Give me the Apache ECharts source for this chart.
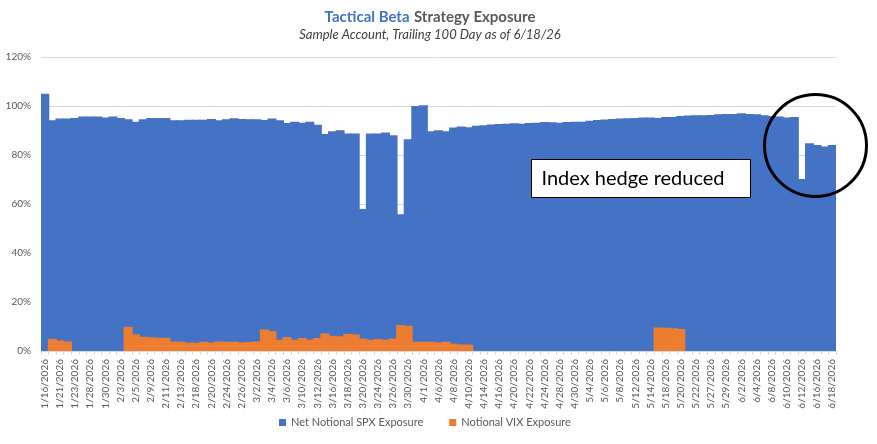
<!DOCTYPE html>
<html>
<head>
<meta charset="utf-8">
<style>
  html, body { margin: 0; padding: 0; background: #fff; }
  #Echarts1 { width: 877px; height: 444px; }
</style>
<script src="https://cdn.jsdelivr.net/npm/echarts@6.0.0/dist/echarts.min.js"></script>
</head>
<body>
<div id="Echarts1"></div>
<script>
'use strict';

// trading days, 1/26 is not in the source data
var dates = [
    '1/16/2026','1/20/2026','1/21/2026','1/22/2026','1/23/2026','1/27/2026','1/28/2026','1/29/2026','1/30/2026',
    '2/2/2026','2/3/2026','2/4/2026','2/5/2026','2/6/2026','2/9/2026','2/10/2026','2/11/2026','2/12/2026','2/13/2026',
    '2/17/2026','2/18/2026','2/19/2026','2/20/2026','2/23/2026','2/24/2026','2/25/2026','2/26/2026','2/27/2026',
    '3/2/2026','3/3/2026','3/4/2026','3/5/2026','3/6/2026','3/9/2026','3/10/2026','3/11/2026','3/12/2026','3/13/2026',
    '3/16/2026','3/17/2026','3/18/2026','3/19/2026','3/20/2026','3/23/2026','3/24/2026','3/25/2026','3/26/2026','3/27/2026',
    '3/30/2026','3/31/2026','4/1/2026','4/2/2026','4/6/2026','4/7/2026','4/8/2026','4/9/2026','4/10/2026',
    '4/13/2026','4/14/2026','4/15/2026','4/16/2026','4/17/2026','4/20/2026','4/21/2026','4/22/2026','4/23/2026','4/24/2026',
    '4/27/2026','4/28/2026','4/29/2026','4/30/2026','5/1/2026','5/4/2026','5/5/2026','5/6/2026','5/7/2026','5/8/2026',
    '5/11/2026','5/12/2026','5/13/2026','5/14/2026','5/15/2026','5/18/2026','5/19/2026','5/20/2026','5/21/2026','5/22/2026',
    '5/26/2026','5/27/2026','5/28/2026','5/29/2026','6/1/2026','6/2/2026','6/3/2026','6/4/2026','6/5/2026',
    '6/8/2026','6/9/2026','6/10/2026','6/11/2026','6/12/2026','6/15/2026','6/16/2026','6/17/2026','6/18/2026'
];

// Net Notional SPX Exposure (%)
var spxExposure = [
    105.0, 94.2, 94.9, 94.9, 95.1, 95.7, 95.7, 95.7, 95.3, 95.7, 95.1, 94.6, 93.6, 94.6, 95.1, 95.1, 95.1, 94.2, 94.2, 94.4, 94.4, 94.4, 94.7, 94.2,
    94.6, 95.0, 94.7, 94.6, 94.6, 94.3, 94.9, 94.2, 93.1, 93.6, 93.2, 93.6, 92.3, 88.6, 89.7, 90.1,
    88.8, 88.8, 58.0, 88.8, 88.8, 89.2, 88.1, 55.8, 86.4, 100.0, 100.3, 89.7, 90.1, 89.7, 91.2, 91.6, 91.3,
    91.9, 92.1, 92.4, 92.7, 92.8, 93.0, 92.8, 93.1, 93.2, 93.5, 93.4, 93.2, 93.5, 93.6, 93.6, 94.0,
    94.3, 94.5, 94.7, 94.9, 95.0, 95.1, 95.3, 95.3, 95.1, 95.5, 95.5, 95.9, 96.1, 96.2, 96.2, 96.3,
    96.6, 96.7, 96.7, 97.0, 96.7, 96.6, 96.2, 95.9, 95.7, 95.3, 95.5, 70.2, 84.8, 84.1, 83.5, 84.1
];

// Notional VIX Exposure (%)
var vixExposure = [
    0, 5.0, 4.3, 3.9, 0, 0, 0, 0, 0, 0, 0, 9.9, 6.8, 5.8, 5.6, 5.4, 5.4, 3.9, 3.8, 3.4, 3.4, 3.8, 3.5, 3.9,
    3.8, 3.8, 3.5, 3.7, 3.9, 8.8, 8.1, 4.6, 5.7, 4.6, 5.3, 4.6, 5.3, 7.2, 6.2, 6.0,
    7.0, 6.8, 5.1, 4.6, 4.9, 4.6, 5.1, 10.6, 10.3, 3.8, 3.8, 3.8, 3.5, 3.8, 3.0, 2.7, 2.6,
    0, 0, 0, 0, 0, 0, 0, 0, 0, 0, 0, 0, 0, 0, 0, 0,
    0, 0, 0, 0, 0, 0, 0, 0, 9.6, 9.5, 9.3, 9.0, 0, 0, 0, 0,
    0, 0, 0, 0, 0, 0, 0, 0, 0, 0, 0, 0, 0, 0, 0, 0
];

var yTicks = { min: 0, max: 120, step: 20 };

// zero days draw nothing
function skipZero(arr) {
    return arr.map(function (v) { return v === 0 ? '-' : v; });
}

var myChart1 = echarts.init(document.getElementById('Echarts1'));
var fontName = 'Lato, "Open Sans", sans-serif';

var option = {
    animation: false,
    color: ['#4472c4', '#ed7d31'],
    textStyle: { fontFamily: fontName },
    title: {
        text: '{b|Tactical Beta} {n|Strategy Exposure}',
        subtext: 'Sample Account, Trailing 100 Day as of 6/18/26',
        left: 425,
        textAlign: 'center',
        top: 3,
        itemGap: 2,
        textStyle: {
            rich: {
                b: { fontFamily: fontName, fontSize: 15, fontWeight: 'bold', color: '#4472c4' },
                n: { fontFamily: fontName, fontSize: 15, color: '#595959' }
            }
        },
        subtextStyle: {
            fontFamily: fontName,
            fontSize: 13,
            fontStyle: 'italic',
            color: '#404040'
        }
    },
    legend: {
        bottom: 11,
        left: 274,
        icon: 'rect',
        itemWidth: 7,
        itemHeight: 7,
        itemGap: 26,
        selectedMode: false,
        textStyle: { fontFamily: fontName, fontSize: 11, color: '#595959' },
        data: ['Net Notional SPX Exposure', 'Notional VIX Exposure']
    },
    grid: {
        left: 41,
        right: 41,
        top: 57,
        bottom: 93
    },
    xAxis: {
        type: 'category',
        data: dates,
        axisLine: { lineStyle: { color: '#d9d9d9' } },
        axisTick: { show: true, interval: 0, length: 4, lineStyle: { color: '#d9d9d9' } },
        axisLabel: {
            interval: 1,
            rotate: 90,
            fontSize: 10,
            color: '#595959',
            fontFamily: fontName
        },
        splitLine: { show: false }
    },
    yAxis: {
        type: 'value',
        min: yTicks.min,
        max: yTicks.max,
        interval: yTicks.step,
        axisLine: { show: false },
        axisTick: { show: false },
        axisLabel: {
            formatter: '{value}%',
            fontSize: 10,
            color: '#595959',
            margin: 10,
            fontFamily: fontName
        },
        splitLine: { lineStyle: { color: '#d9d9d9' } }
    },
    series: [
        {
            name: 'Net Notional SPX Exposure',
            type: 'bar',
            barWidth: 9,   // a bit wider than the band so no seams show between days
            barGap: '-100%',
            itemStyle: { borderWidth: 0 },
            data: spxExposure
        },
        {
            name: 'Notional VIX Exposure',
            type: 'bar',
            barWidth: 9,
            barGap: '-100%',
            itemStyle: { borderWidth: 0 },
            data: skipZero(vixExposure)
        }
    ],
    graphic: [
        {
            type: 'group',
            left: 531,
            top: 159,
            z: 100,
            children: [
                {
                    type: 'rect',
                    z: 100,
                    shape: { x: 0, y: 0, width: 219, height: 38 },
                    style: { fill: '#fff', stroke: '#000', lineWidth: 1 }
                },
                {
                    type: 'text',
                    z: 101,
                    x: 10,
                    y: 19,
                    style: {
                        text: 'Index hedge reduced',
                        fontFamily: fontName,
                        fontSize: 20,
                        fill: '#000',
                        verticalAlign: 'middle'
                    }
                }
            ]
        },
        {
            type: 'circle',
            shape: { cx: 815.5, cy: 145.5, r: 51 },
            style: { fill: 'none', stroke: '#000', lineWidth: 3 },
            z: 100
        }
    ]
};
myChart1.setOption(option);
</script>
</body>
</html>
